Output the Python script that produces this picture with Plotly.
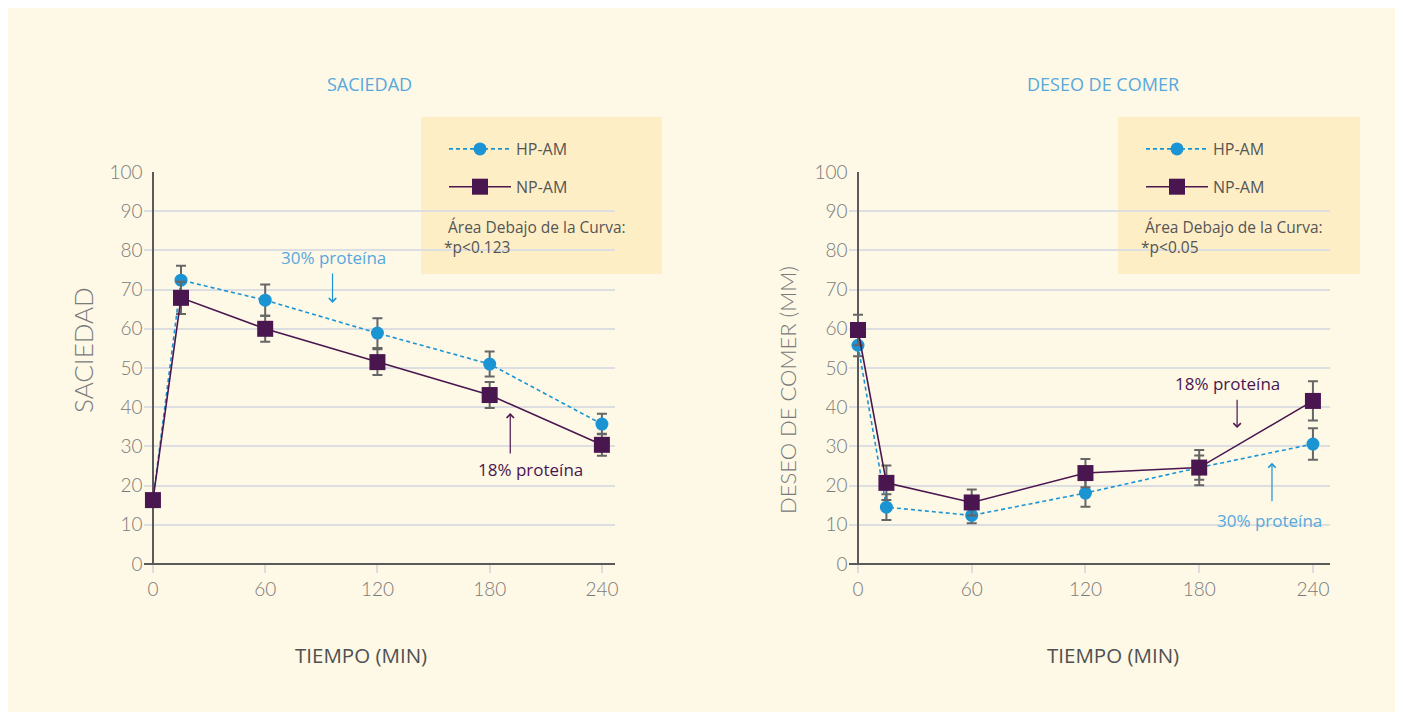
import plotly.graph_objects as go

# ---------------- data ----------------
time_min = [0, 15, 60, 120, 180, 240]
tick_vals_x = [0, 60, 120, 180, 240]
tick_vals_y = [0, 10, 20, 30, 40, 50, 60, 70, 80, 90, 100]

# Saciedad
sac_hp = [16.3, 72.4, 67.3, 58.9, 51.0, 35.7]
sac_hp_err = [0.0, 3.7, 4.0, 3.8, 3.2, 2.6]
sac_np = [16.3, 67.9, 60.0, 51.5, 43.1, 30.4]
sac_np_err = [0.0, 4.1, 3.3, 3.3, 3.3, 2.8]

# Deseo de comer
des_hp = [55.8, 14.5, 12.4, 18.1, 24.6, 30.6]
des_hp_err = [2.8, 3.3, 2.0, 3.5, 3.1, 4.0]
des_np = [59.7, 20.7, 15.7, 23.2, 24.6, 41.6]
des_np_err = [3.9, 4.4, 3.3, 3.6, 4.5, 5.0]

series_names = ["HP-AM", "NP-AM"]
panel_titles = ["SACIEDAD", "DESEO DE COMER"]
y_titles = ["SACIEDAD", "DESEO DE COMER (MM)"]
x_title = "TIEMPO (MIN)"
pvalues = ["*p<0.123", "*p<0.05"]
auc_text = "Área Debajo de la Curva:"

# ---------------- style ----------------
W, H = 1403, 715
OFF = 8  # page body margin offset
BLUE = "#1b94d4"
BLUE_TXT = "#57a8dd"
PURPLE = "#4a1650"
CREAM = "#fef8e6"
BOX = "#fdeec6"
GRID = "#dcdee2"
AXIS = "#5a5a5a"
TICK_TXT = "#7a7a7a"
FONT = "Lato"
TFONT = "Open Sans"

def px(x):
    return (x - OFF) / W

def py(y):
    return 1 - (y - OFF) / H

fig = go.Figure()

def add_series(xa, ya, hp, hp_err, np_, np_err, legend):
    fig.add_trace(go.Scatter(
        x=time_min, y=hp, name=series_names[0], mode="lines+markers",
        xaxis=xa, yaxis=ya, legend=legend, legendgroup="hp" + legend,
        line=dict(color=BLUE, width=1.6, dash="4px,3px"),
        marker=dict(symbol="circle", size=13, color=BLUE),
        error_y=dict(type="data", array=hp_err, color="#666666", thickness=2, width=5),
        cliponaxis=False,
    ))
    fig.add_trace(go.Scatter(
        x=time_min, y=np_, name=series_names[1], mode="lines+markers",
        xaxis=xa, yaxis=ya, legend=legend, legendgroup="np" + legend,
        line=dict(color=PURPLE, width=1.6),
        marker=dict(symbol="square", size=16, color=PURPLE),
        error_y=dict(type="data", array=np_err, color="#666666", thickness=2, width=5),
        cliponaxis=False,
    ))

add_series("x", "y", sac_hp, sac_hp_err, sac_np, sac_np_err, "legend")
add_series("x2", "y2", des_hp, des_hp_err, des_np, des_np_err, "legend2")

y_dom = [py(564), py(172)]
xaxis_common = dict(
    tickvals=tick_vals_x, showgrid=False, zeroline=True, zerolinecolor=AXIS,
    zerolinewidth=1.5, showline=False, ticks="outside", ticklen=8, tickwidth=1.5,
    tickcolor="#dddddd", automargin=False,
    tickfont=dict(family=FONT, size=19, color=TICK_TXT, weight=300),
)
yaxis_common = dict(
    range=[0, 100], tickvals=tick_vals_y, showgrid=True, gridcolor=GRID, gridwidth=1.5,
    zeroline=True, zerolinecolor=AXIS, zerolinewidth=1.5, showline=False, ticks="",
    automargin=False,
    tickfont=dict(family=FONT, size=19, color=TICK_TXT, weight=300), domain=y_dom,
)

legend_common = dict(xanchor="left", yanchor="top", bgcolor="rgba(0,0,0,0)",
                     font=dict(family=TFONT, size=16, color="#555555"),
                     itemwidth=62, tracegroupgap=14, traceorder="grouped")

fig.update_layout(
    template="none",
    width=W, height=H,
    margin=dict(l=0, r=0, t=0, b=0, pad=0, autoexpand=False),
    paper_bgcolor="white", plot_bgcolor="rgba(0,0,0,0)",
    showlegend=True,
    xaxis=dict(domain=[px(143.6), px(615)], range=[-5, 247], anchor="y", **xaxis_common),
    yaxis=dict(anchor="x", **yaxis_common),
    xaxis2=dict(domain=[px(848.5), px(1330)], range=[-5, 249], anchor="y2", **xaxis_common),
    yaxis2=dict(anchor="x2", **yaxis_common),
    legend=dict(x=px(444), y=py(132), **legend_common),
    legend2=dict(x=px(1141), y=py(132), **legend_common),
)

# background and legend boxes
fig.add_shape(type="rect", xref="paper", yref="paper", x0=px(8), x1=px(1397),
              y0=py(712), y1=1.0, fillcolor=CREAM, line=dict(width=0), layer="below")
for x0, x1 in [(421, 662), (1118, 1360)]:
    fig.add_shape(type="rect", xref="paper", yref="paper", x0=px(x0), x1=px(x1),
                  y0=py(274), y1=py(117), fillcolor=BOX, line=dict(width=0), layer="below")

ann = []
def pann(text, x, y, size, color, family=TFONT, xanchor="center", weight=None, angle=0,
         align="center"):
    f = dict(family=family, size=size, color=color)
    if weight:
        f["weight"] = weight
    ann.append(dict(text=text, x=px(x), y=py(y), xref="paper", yref="paper",
                    xanchor=xanchor, yanchor="middle", textangle=angle, align=align,
                    showarrow=False, font=f))

# panel titles
pann(panel_titles[0], 369, 84, 18, BLUE_TXT)
pann(panel_titles[1], 1103, 84, 18, BLUE_TXT)
# x titles
pann(x_title, 361, 655, 20.5, "#505050")
pann(x_title, 1113, 655, 20.5, "#505050")
# y titles
pann(y_titles[0], 83, 350, 26, TICK_TXT, family=FONT, weight=300, angle=-90)
pann(y_titles[1], 787, 390, 22, TICK_TXT, family=FONT, weight=300, angle=-90)
# AUC texts
for xl, pv in [(442, pvalues[0]), (1139, pvalues[1])]:
    pann(" " + auc_text + "<br>" + pv, xl, 237, 15.5, "#555555", xanchor="left",
         align="left")

# callouts: (xref, yref, text, text x, text y, text color, arrow color, arrow x, y_from, y_to)
callouts = [
    ("x", "y", "30% proteína", 96.7, 78.3, BLUE_TXT, BLUE, 96, 74.5, 66.6),
    ("x", "y", "18% proteína", 202, 24.2, PURPLE, PURPLE, 191, 27.8, 38.5),
    ("x2", "y2", "18% proteína", 195, 46.0, PURPLE, PURPLE, 200, 42.3, 34.7),
    ("x2", "y2", "30% proteína", 217, 11.2, BLUE_TXT, BLUE, 218.4, 15.6, 25.8),
]
for xr, yr, t, tx, ty, col, acol, axx, y0, y1 in callouts:
    ann.append(dict(text=t, x=tx, y=ty, xref=xr, yref=yr, showarrow=False,
                    xanchor="center", yanchor="middle",
                    font=dict(family=TFONT, size=17, color=col)))
    ann.append(dict(text="", x=axx, y=y1, ax=axx, ay=y0, xref=xr, yref=yr,
                    axref=xr, ayref=yr, showarrow=True, arrowhead=4, arrowsize=1.2,
                    arrowwidth=1.2, arrowcolor=acol))

fig.update_layout(annotations=ann)

fig.write_html("out.html")
